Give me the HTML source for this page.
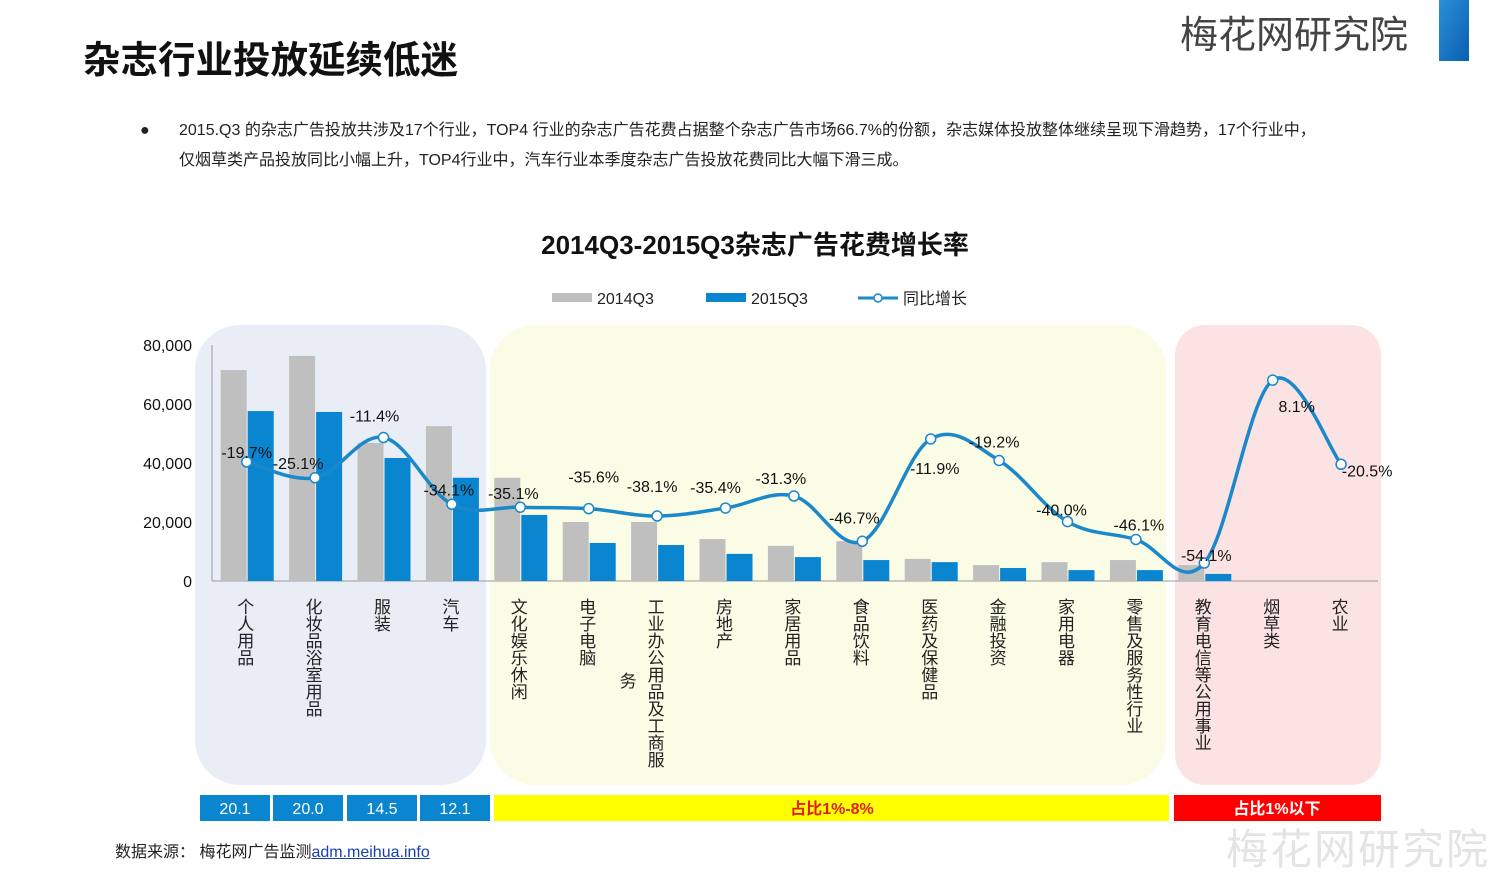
<!DOCTYPE html>
<html><head><meta charset="utf-8">
<style>
html,body{margin:0;padding:0;background:#fff;}
body{width:1500px;height:886px;position:relative;overflow:hidden;font-family:"Liberation Sans","Noto Sans CJK SC",sans-serif;}
.abs{position:absolute;}
</style></head>
<body>
<div class="abs" style="left:83px;top:29px;font-size:37.5px;font-weight:bold;color:#111;">杂志行业投放延续低迷</div>
<div class="abs" style="left:1180px;top:4px;font-size:38px;color:#444;">梅花网研究院</div>
<svg class="abs" style="left:1436px;top:0" width="36" height="62"><defs><linearGradient id="bg1" x1="0" y1="0" x2="1" y2="1"><stop offset="0" stop-color="#2a8fd8"/><stop offset="1" stop-color="#0a5fb0"/></linearGradient></defs><rect x="3" y="0" width="30" height="61" fill="url(#bg1)"/></svg>
<div class="abs" style="left:140px;top:116px;font-size:16px;color:#222;line-height:30px;">
<span style="position:absolute;left:0;">●</span>
<div style="margin-left:39px;width:1210px;">2015.Q3 的杂志广告投放共涉及17个行业，TOP4 行业的杂志广告花费占据整个杂志广告市场66.7%的份额，杂志媒体投放整体继续呈现下滑趋势，17个行业中，<br>仅烟草类产品投放同比小幅上升，TOP4行业中，汽车行业本季度杂志广告投放花费同比大幅下滑三成。</div></div>

<svg id="chart" class="abs" style="left:0;top:0" width="1500" height="886"></svg>

<div class="abs" style="left:115px;top:838px;font-size:16px;color:#222;">数据来源： 梅花网广告监测<span style="color:#1a3fb0;text-decoration:underline;">adm.meihua.info</span></div>
<div class="abs" style="left:1226px;top:816px;font-size:42px;color:#e4e4e4;letter-spacing:2px;">梅花网研究院</div>

<script>
const categories=["个人用品","化妆品 浴室用品","服装","汽车","文化娱乐休闲","电子电脑","工业办公用品及工商服务","房地产","家居用品","食品饮料","医药及保健品","金融投资","家用电器","零售及服务性行业","教育电信等公用事业","烟草类","农业"];
const s2014=[71500,76300,46800,52500,35000,20000,20000,14200,11900,13500,7500,5400,6400,7100,5400,0,0];
const s2015=[57600,57300,41700,35000,22400,12900,12200,9200,8100,7100,6400,4400,3700,3700,2400,0,0];
const growth=[-19.7,-25.1,-11.4,-34.1,-35.1,-35.6,-38.1,-35.4,-31.3,-46.7,-11.9,-19.2,-40.0,-46.1,-54.1,8.1,-20.5];
const yTicks=[0,20000,40000,60000,80000];
const shareLabels=["20.1","20.0","14.5","12.1"];
// label placement offsets (styling)
const lblOff=[[0,-10],[-17,-15],[-9,-22],[-3,-15],[-7,-14],[5,-32],[-5,-30],[-10,-21],[-13,-18],[-8,-24],[4,29],[-5,-19],[-6,-12],[3,-15],[2,-8],[24,26],[26,6]];

const NS="http://www.w3.org/2000/svg";
const svg=document.getElementById('chart');
function mk(t,a,p){const e=document.createElementNS(NS,t);for(const k in a)e.setAttribute(k,a[k]);(p||svg).appendChild(e);return e;}
const x0=212.5,step=68.4,y0=581,yTop=345;
const xC=i=>x0+step*(i+0.5);
const yV=v=>y0-(v/80000)*(y0-yTop);
const yG=g=>404-g*2.94;

let e;
e=mk('rect',{x:195,y:325,width:291,height:460,rx:45,fill:'#e9eef6'});

e=mk('rect',{x:490,y:325,width:676,height:460,rx:45,fill:'#fbfce6'});

e=mk('rect',{x:1175,y:325,width:206,height:460,rx:30,fill:'#fce3e3'});


e=mk('text',{x:755,y:254,'text-anchor':'middle','font-size':26,'font-weight':'bold',fill:'#111'});e.textContent='2014Q3-2015Q3杂志广告花费增长率';

const lg=mk('g',{});
mk('rect',{x:552,y:293,width:40,height:9,fill:'#bfbfbf'},lg);
e=mk('text',{x:597,y:304,'font-size':16,fill:'#222'},lg);e.textContent='2014Q3';
mk('rect',{x:706,y:293,width:40,height:9,fill:'#0a86d0'},lg);
e=mk('text',{x:751,y:304,'font-size':16,fill:'#222'},lg);e.textContent='2015Q3';
mk('line',{x1:858,y1:298,x2:898,y2:298,stroke:'#1a88c9','stroke-width':3},lg);
mk('circle',{cx:878,cy:298,r:4,fill:'#fff',stroke:'#1a88c9','stroke-width':1.5},lg);
e=mk('text',{x:903,y:304,'font-size':16,fill:'#222'},lg);e.textContent='同比增长';

mk('line',{x1:212,y1:y0,x2:212,y2:yTop,stroke:'#999','stroke-width':1});
mk('line',{x1:212,y1:y0,x2:1378,y2:y0,stroke:'#999','stroke-width':1});
yTicks.forEach(t=>{e=mk('text',{x:192,y:yV(t)+6,'text-anchor':'end','font-size':16,fill:'#111'});e.textContent=t.toLocaleString('en-US');
});

categories.forEach((c,i)=>{
 const cx=xC(i);
 if(s2014[i]>0){e=mk('rect',{x:cx-26,y:yV(s2014[i]),width:26,height:y0-yV(s2014[i]),fill:'#bfbfbf'});
 }
 if(s2015[i]>0){e=mk('rect',{x:cx+1,y:yV(s2015[i]),width:26,height:y0-yV(s2015[i]),fill:'#0a86d0'});
 }
});

const pts=growth.map((g,i)=>[xC(i),yG(g)]);
let d='M'+pts[0][0]+','+pts[0][1];
for(let i=0;i<pts.length-1;i++){const p0=pts[i-1]||pts[i],p1=pts[i],p2=pts[i+1],p3=pts[i+2]||p2;const t=0.175;
 d+=` C${p1[0]+(p2[0]-p0[0])*t},${p1[1]+(p2[1]-p0[1])*t} ${p2[0]-(p3[0]-p1[0])*t},${p2[1]-(p3[1]-p1[1])*t} ${p2[0]},${p2[1]}`;}
e=mk('path',{d:d,fill:'none',stroke:'#1a88c9','stroke-width':3.5});

pts.forEach((p,i)=>{
 e=mk('circle',{cx:p[0],cy:p[1],r:5,fill:'#fff',stroke:'#1a88c9','stroke-width':1.5});
 
 e=mk('text',{x:p[0]+lblOff[i][0],y:p[1]+lblOff[i][1]+6,'text-anchor':'middle','font-size':16,fill:'#111'});
 e.textContent=growth[i].toFixed(1)+'%';
 
});

categories.forEach((c,i)=>{
 let cols=[c];
 if(c.length>10){cols=[c.slice(0,10),c.slice(10)];}
 cols.forEach((col,k)=>{
  const cx=xC(i)-3-k*28;
  const ystart= k===0?598:672;
  e=mk('text',{x:cx,y:ystart,'font-size':17,fill:'#222','text-anchor':'start',style:'writing-mode:vertical-rl;text-orientation:upright;'});
  e.textContent=col.replace(' ','');
  
 });
});

const boxX=[200,273,347,420];
shareLabels.forEach((s,i)=>{
 e=mk('rect',{x:boxX[i],y:795,width:70,height:26,fill:'#0a86d0'});
 
 e=mk('text',{x:boxX[i]+35,y:814,'text-anchor':'middle','font-size':16,fill:'#fff'});e.textContent=s;
});
e=mk('rect',{x:494,y:795,width:675,height:26,fill:'#ffff00'});

e=mk('text',{x:832,y:814,'text-anchor':'middle','font-size':16,'font-weight':'bold',fill:'#e02020'});e.textContent='占比1%-8%';
e=mk('rect',{x:1174,y:795,width:207,height:26,fill:'#ff0000'});

e=mk('text',{x:1277,y:814,'text-anchor':'middle','font-size':16,'font-weight':'bold',fill:'#fff'});e.textContent='占比1%以下';
</script>
</body></html>
